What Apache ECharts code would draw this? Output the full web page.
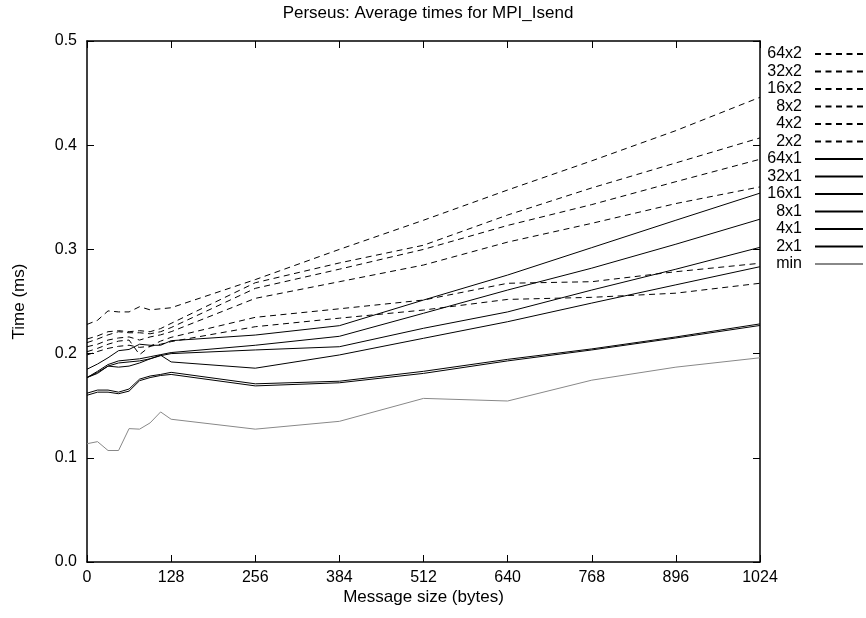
<!DOCTYPE html>
<html>
<head>
<meta charset="utf-8">
<script src="https://cdn.jsdelivr.net/npm/echarts@6/dist/echarts.min.js"></script>
<style>
  html, body { margin: 0; padding: 0; background: #fff; }
  #chart { width: 866px; height: 618px; }
</style>
</head>
<body>
<div id="chart"></div>
<script>
// message sizes (bytes)
var sizes = [0, 16, 32, 48, 64, 80, 96, 112, 128, 256, 384, 512, 640, 768, 896, 1024];

// average times (ms)
var t64x2 = [0.228, 0.232, 0.241, 0.240, 0.240, 0.245, 0.242, 0.243, 0.244, 0.271, 0.300, 0.328, 0.357, 0.385, 0.414, 0.446];
var t32x2 = [0.214, 0.217, 0.221, 0.222, 0.221, 0.222, 0.221, 0.224, 0.229, 0.268, 0.287, 0.304, 0.333, 0.359, 0.383, 0.407];
var t16x2 = [0.2105, 0.214, 0.218, 0.221, 0.220, 0.220, 0.219, 0.221, 0.225, 0.2626, 0.281, 0.300, 0.323, 0.343, 0.365, 0.3865];
var t8x2  = [0.2066, 0.209, 0.213, 0.215, 0.216, 0.213, 0.216, 0.218, 0.221, 0.253, 0.269, 0.285, 0.307, 0.325, 0.344, 0.360];
var t4x2  = [0.2018, 0.205, 0.209, 0.212, 0.213, 0.199, 0.207, 0.212, 0.2156, 0.2348, 0.243, 0.2514, 0.2675, 0.269, 0.2786, 0.2867];
var t2x2  = [0.1987, 0.202, 0.205, 0.207, 0.208, 0.206, 0.207, 0.209, 0.2115, 0.2258, 0.234, 0.2418, 0.252, 0.254, 0.258, 0.2675];
var t64x1 = [0.185, 0.190, 0.196, 0.2028, 0.204, 0.209, 0.208, 0.208, 0.2124, 0.2178, 0.2268, 0.2514, 0.2754, 0.3017, 0.328, 0.354];
var t32x1 = [0.177, 0.183, 0.1895, 0.193, 0.194, 0.195, 0.197, 0.199, 0.201, 0.208, 0.2166, 0.2387, 0.261, 0.282, 0.305, 0.329];
var t16x1 = [0.177, 0.182, 0.188, 0.191, 0.192, 0.193, 0.195, 0.198, 0.200, 0.2035, 0.2066, 0.2243, 0.240, 0.261, 0.281, 0.302];
var t8x1  = [0.177, 0.181, 0.188, 0.187, 0.188, 0.191, 0.195, 0.1985, 0.192, 0.186, 0.1987, 0.2147, 0.2306, 0.2485, 0.266, 0.2834];
var t4x1  = [0.162, 0.165, 0.165, 0.163, 0.166, 0.1755, 0.1785, 0.180, 0.182, 0.171, 0.1735, 0.183, 0.1945, 0.2045, 0.216, 0.2285];
var t2x1  = [0.160, 0.163, 0.163, 0.1615, 0.164, 0.174, 0.177, 0.179, 0.180, 0.169, 0.172, 0.181, 0.193, 0.2035, 0.215, 0.227];
var tmin  = [0.1135, 0.1155, 0.107, 0.107, 0.128, 0.1275, 0.1335, 0.144, 0.137, 0.1275, 0.135, 0.157, 0.1545, 0.1745, 0.187, 0.196];

var names = ['64x2', '32x2', '16x2', '8x2', '4x2', '2x2', '64x1', '32x1', '16x1', '8x1', '4x1', '2x1', 'min'];
var values = [t64x2, t32x2, t16x2, t8x2, t4x2, t2x2, t64x1, t32x1, t16x1, t8x1, t4x1, t2x1, tmin];

var font = 'Liberation Sans, Arial, Helvetica, sans-serif';

var pair = function (ys) {
  return sizes.map(function (x, i) { return [x, ys[i]]; });
};

var series = names.map(function (n, i) {
  var dashed = n.indexOf('x2') > 0;
  var col = n === 'min' ? '#888888' : '#000000';
  return {
    name: n,
    type: 'line',
    data: pair(values[i]),
    symbol: 'none',
    animation: false,
    lineStyle: { color: col, width: 1, type: dashed ? [6, 4.5] : 'solid' },
    itemStyle: { color: col }
  };
});

// mirrored axis (top / right): ticks only, pointing inwards
var mirror = function (pos, min, max, step) {
  return {
    type: 'value',
    position: pos,
    min: min, max: max, interval: step,
    axisLine: { show: true, onZero: false, lineStyle: { color: '#000', width: 1.5 } },
    axisTick: { show: true, inside: true, length: 7, lineStyle: { color: '#000' } },
    axisLabel: { show: false },
    splitLine: { show: false }
  };
};

var myChart = echarts.init(document.getElementById('chart'));
var option = {
  animation: false,
  title: {
    text: 'Perseus: Average times for MPI_Isend',
    left: 423,
    textAlign: 'center',
    top: 0,
    textStyle: { fontFamily: font, fontSize: 17, fontWeight: 'normal', color: '#000' }
  },
  legend: {
    orient: 'vertical',
    right: 2,
    top: 46,
    padding: 0,
    itemWidth: 48,
    itemHeight: 14,
    itemGap: 1.5,
    align: 'right',
    data: names,
    itemStyle: { opacity: 0 },
    formatter: function (n) { return '{a|' + n + '}'; },
    textStyle: {
      fontFamily: font,
      fontSize: 16,
      lineHeight: 14,
      color: '#000',
      rich: { a: { width: 40, align: 'right', fontFamily: font, fontSize: 16, lineHeight: 14, padding: [0, 8, 0, 0] } }
    }
  },
  grid: { left: 87, right: 106, top: 41, bottom: 56 },
  xAxis: [
    {
      type: 'value',
      position: 'bottom',
      min: 0, max: 1024, interval: 128,
      name: 'Message size (bytes)',
      nameLocation: 'middle',
      nameGap: 27,
      nameMoveOverlap: false,
      nameTextStyle: { fontFamily: font, fontSize: 17, color: '#000' },
      axisLine: { onZero: false, lineStyle: { color: '#000', width: 1.5 } },
      axisTick: { inside: true, length: 7, lineStyle: { color: '#000' } },
      axisLabel: {
        fontFamily: font, fontSize: 16, color: '#000', margin: 8,
        formatter: function (v) { return String(v); }
      },
      splitLine: { show: false }
    },
    mirror('top', 0, 1024, 128)
  ],
  yAxis: [
    {
      type: 'value',
      position: 'left',
      min: 0, max: 0.5, interval: 0.1,
      name: 'Time (ms)',
      nameLocation: 'middle',
      nameGap: 59,
      nameMoveOverlap: false,
      nameTextStyle: { fontFamily: font, fontSize: 17, color: '#000' },
      axisLine: { show: true, onZero: false, lineStyle: { color: '#000', width: 1.5 } },
      axisTick: { show: true, inside: true, length: 7, lineStyle: { color: '#000' } },
      axisLabel: {
        fontFamily: font, fontSize: 16, color: '#000', margin: 10,
        formatter: function (v) { return v.toFixed(1); }
      },
      splitLine: { show: false }
    },
    mirror('right', 0, 0.5, 0.1)
  ],
  series: series
};
myChart.setOption(option);
</script>
</body>
</html>
